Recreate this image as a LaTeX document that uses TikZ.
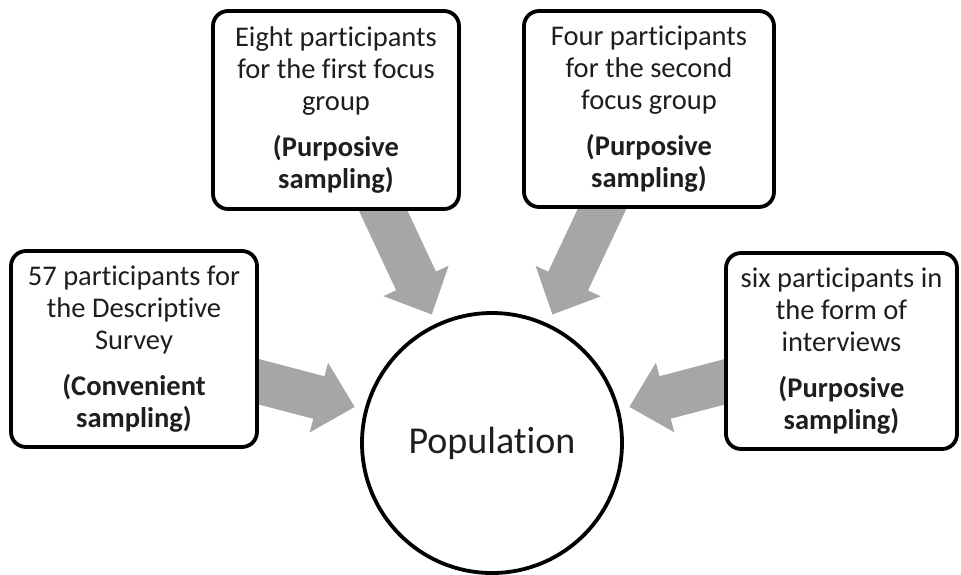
\documentclass[tikz,border=0pt]{standalone}
\usepackage{fontspec}
\setmainfont{Carlito}[Ligatures=NoCommon]
\usetikzlibrary{calc,backgrounds}
\definecolor{arrowgray}{RGB}{166,166,166}
\definecolor{txt}{RGB}{30,30,30}
\tikzset{
  box/.style={draw=black, line width=3.8pt, rounded corners=15pt, fill=white,
    align=center, inner sep=0pt, text=txt, font=\fontsize{28.5}{32}\selectfont},
  popnode/.style={draw=black, line width=3.8pt, circle, fill=white, inner sep=0pt,
    minimum size=260pt, text=txt, font=\fontsize{38}{44}\selectfont},
  arrowfill/.style={fill=arrowgray}
}
\newcommand{\myblockarrow}[1]{%
  \coordinate (t#1) at ($(pop)!142pt!(#1)$);
  \coordinate (h#1) at ($(t#1)!37pt!(#1)$);
  \fill[arrowfill] ($(#1)!22pt!90:(t#1)$) -- ($(h#1)!22pt!90:(t#1)$) -- ($(h#1)!36pt!90:(t#1)$)
    -- (t#1) -- ($(h#1)!36pt!-90:(t#1)$) -- ($(h#1)!22pt!-90:(t#1)$) -- ($(#1)!22pt!-90:(t#1)$) -- cycle;
}
\begin{document}
\begin{tikzpicture}[x=1pt,y=-1pt]
\useasboundingbox (0,0) rectangle (961,574);
\node[popnode] (pop) at (492,443) {Population};
\node[box, minimum width=246pt, minimum height=196pt] (b1) at (134,349)
  {57 participants for\\the Descriptive\\Survey\\[14pt]\textbf{(Convenient}\\\textbf{sampling)}};
\node[box, minimum width=246pt, minimum height=198pt] (b2) at (336,110)
  {Eight participants\\for the first focus\\group\\[14pt]\textbf{(Purposive}\\\textbf{sampling)}};
\node[box, minimum width=250pt, minimum height=196pt] (b3) at (649,109)
  {Four participants\\for the second\\focus group\\[14pt]\textbf{(Purposive}\\\textbf{sampling)}};
\node[box, minimum width=231pt, minimum height=196pt] (b4) at (841.5,351)
  {six participants in\\the form of\\interviews\\[14pt]\textbf{(Purposive}\\\textbf{sampling)}};
\begin{scope}[on background layer]
  \myblockarrow{b1}
  \myblockarrow{b2}
  \myblockarrow{b3}
  \myblockarrow{b4}
\end{scope}
\end{tikzpicture}
\end{document}
